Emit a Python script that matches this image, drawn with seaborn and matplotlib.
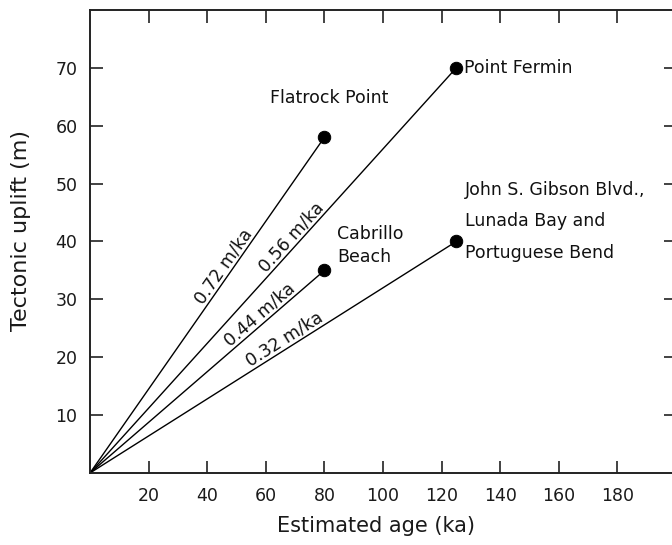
import numpy as np
import pandas as pd
import matplotlib
matplotlib.use("Agg")
import matplotlib.pyplot as plt
import seaborn as sns

# ---- data ----
sites = ["Flatrock Point", "Point Fermin", "Cabrillo\nBeach",
         "John S. Gibson Blvd.,\nLunada Bay and\nPortuguese Bend"]
ages = [80, 125, 80, 125]          # ka
uplift = [58, 70, 35, 40]          # m
rate_labels = ["0.72 m/ka", "0.56 m/ka", "0.44 m/ka", "0.32 m/ka"]
x_ticks = [20, 40, 60, 80, 100, 120, 140, 160, 180]
y_ticks = [10, 20, 30, 40, 50, 60, 70]

# long table: each site line runs from the origin to its point
rows = []
for s, a, u in zip(sites, ages, uplift):
    rows.append({"site": s, "age": 0.0, "uplift": 0.0})
    rows.append({"site": s, "age": a, "uplift": u})
lines_df = pd.DataFrame(rows)
pts_df = pd.DataFrame({"site": sites, "age": ages, "uplift": uplift})

sns.set_theme(style="ticks")
plt.rcParams["font.family"] = ["DejaVu Sans"]

fig = plt.figure(figsize=(6.72, 5.45), dpi=100)
ax = fig.add_axes([90 / 672, 72 / 545, 586 / 672, 463 / 545])

sns.lineplot(data=lines_df, x="age", y="uplift", units="site", estimator=None,
             color="black", linewidth=1.0, ax=ax, legend=False)
sns.scatterplot(data=pts_df, x="age", y="uplift", color="black", s=80,
                edgecolor="black", ax=ax, legend=False, zorder=5)

ax.set_xlim(0, 200)
ax.set_ylim(0, 80)
ax.set_xticks(x_ticks)
ax.set_yticks(y_ticks)
ax.set_xticklabels([str(t) for t in x_ticks])
ax.set_yticklabels([str(t) for t in y_ticks])
ax.tick_params(direction="in", length=9, width=1.2, top=True, right=True,
               labelsize=12.5, color="#222222", labelcolor="#1a1a1a")
ax.tick_params(axis="x", pad=10)
ax.tick_params(axis="y", pad=9)
for sp in ax.spines.values():
    sp.set_visible(True)
    sp.set_linewidth(1.4)
    sp.set_color("#222222")

ax.set_xlabel("Estimated age (ka)", fontsize=15, color="#1a1a1a")
ax.set_ylabel("Tectonic uplift (m)", fontsize=16, color="#1a1a1a")
ax.xaxis.set_label_coords(0.488, -0.093)
ax.yaxis.set_label_coords(-0.100, 0.523)

# site labels
tc = "#111111"
fs = 12.5
ax.text(81.6, 64.8, sites[0], ha="center", va="center", fontsize=fs, color=tc)
ax.text(127.5, 70, sites[1], ha="left", va="center", fontsize=fs, color=tc)
ax.text(84.3, 39.3, sites[2], ha="left", va="center", fontsize=fs, color=tc,
        linespacing=1.3)
ax.text(128.0, 43.5, sites[3], ha="left", va="center", fontsize=fs, color=tc,
        linespacing=1.95)

# rate labels along each line
label_x = [48, 71, 60, 68]
for lab, a, u, lx in zip(rate_labels, ages, uplift, label_x):
    slope = u / a
    ly = slope * lx
    p0 = ax.transData.transform((0, 0))
    p1 = ax.transData.transform((a, u))
    ang = np.degrees(np.arctan2(p1[1] - p0[1], p1[0] - p0[0]))
    ax.text(lx, ly, lab, rotation=ang, rotation_mode="anchor",
            ha="center", va="bottom", fontsize=12.5, color=tc)

fig.savefig("out.png", dpi=100)
